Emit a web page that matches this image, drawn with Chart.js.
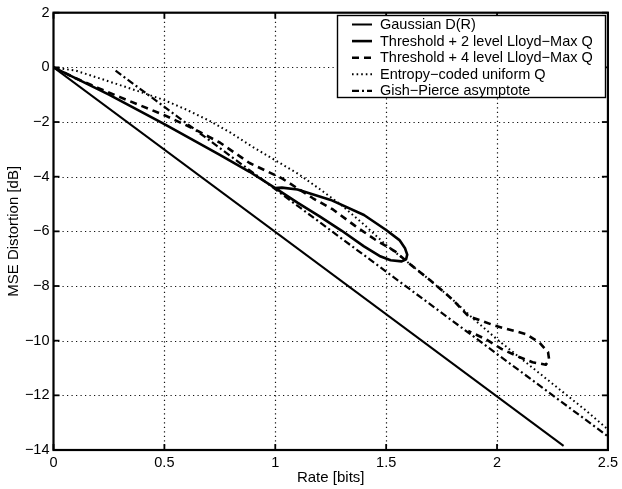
<!DOCTYPE html>
<html>
<head>
<meta charset="utf-8">
<script src="https://cdn.jsdelivr.net/npm/chart.js@4.4.1/dist/chart.umd.min.js"></script>
<style>
  html, body { margin: 0; padding: 0; background: #fff; }
  #wrap { width: 622px; height: 489px; }
</style>
</head>
<body>
<div id="wrap"><canvas id="c" width="622" height="489"></canvas></div>
<script>
// ---- data ----
const seriesNames = [
  'Gaussian D(R)',
  'Threshold + 2 level Lloyd\u2212Max Q',
  'Threshold + 4 level Lloyd\u2212Max Q',
  'Entropy\u2212coded uniform Q',
  'Gish\u2212Pierce asymptote'
];
const gaussRate = [0, 2.3];
const gaussDist = [0, -13.85];

const lm2Rate = [0, 0.25, 0.5, 0.75, 0.884, 1.0, 1.1, 1.2, 1.3, 1.4, 1.47, 1.52, 1.57, 1.59, 1.595, 1.585, 1.56, 1.5, 1.4, 1.25, 1.1, 1.03, 1.0];
const lm2Dist = [0, -1.0, -2.08, -3.2, -3.82, -4.42, -4.95, -5.45, -5.98, -6.55, -6.9, -7.06, -7.1, -7.02, -6.85, -6.62, -6.32, -5.95, -5.4, -4.85, -4.47, -4.4, -4.42];

const lm4Rate = [0, 0.1, 0.2, 0.3, 0.43, 0.5, 0.62, 0.75, 0.884, 1.03, 1.17, 1.26, 1.36, 1.45, 1.54, 1.6, 1.7, 1.8, 1.87, 1.99, 2.13, 2.19, 2.23, 2.235, 2.22, 2.16, 2.1, 2.02, 1.95, 1.87];
const lm4Dist = [0, -0.4, -0.75, -1.09, -1.52, -1.75, -2.2, -2.75, -3.5, -4.06, -4.79, -5.2, -5.8, -6.3, -6.73, -7.15, -7.8, -8.5, -9.1, -9.45, -9.76, -10.06, -10.42, -10.7, -10.88, -10.79, -10.6, -10.3, -9.95, -9.64];

const ecRate = [0, 0.1, 0.2, 0.3, 0.4, 0.5, 0.6, 0.7, 0.8, 0.9, 1.0, 1.1, 1.2, 1.3, 1.4, 1.5, 1.6, 1.7, 1.8, 1.9, 2.0, 2.1, 2.2, 2.3, 2.4, 2.5];
const ecDist = [0, -0.12, -0.38, -0.65, -0.92, -1.2, -1.55, -1.94, -2.4, -2.92, -3.4, -3.88, -4.45, -5.05, -5.75, -6.5, -7.15, -7.8, -8.5, -9.25, -9.95, -10.6, -11.25, -11.9, -12.55, -13.25];

const gpRate = [0.28, 2.5];
const gpDist = [-0.12, -13.5];

const xTicks = [0, 0.5, 1, 1.5, 2, 2.5];
const xTickLabels = ['0', '0.5', '1', '1.5', '2', '2.5'];
const yTicks = [2, 0, -2, -4, -6, -8, -10, -12, -14];
const yTickLabels = ['2', '0', '\u22122', '\u22124', '\u22126', '\u22128', '\u221210', '\u221212', '\u221214'];

// ---- build ----
function pts(xs, ys) { return xs.map((x, i) => ({ x: x, y: ys[i] })); }
const FONT = "'Liberation Sans', Arial, Helvetica, sans-serif";

const styles = [
  { w: 2.0, dash: [] },
  { w: 2.6, dash: [] },
  { w: 2.6, dash: [7, 5] },
  { w: 2.0, dash: [1.6, 3] },
  { w: 2.2, dash: [7, 3, 2, 3] }
];
const allData = [
  pts(gaussRate, gaussDist),
  pts(lm2Rate, lm2Dist),
  pts(lm4Rate, lm4Dist),
  pts(ecRate, ecDist),
  pts(gpRate, gpDist)
];
const datasets = allData.map((d, i) => ({
  label: seriesNames[i],
  data: d,
  showLine: true,
  borderColor: '#000',
  backgroundColor: '#000',
  borderWidth: styles[i].w,
  borderDash: styles[i].dash,
  pointRadius: 0,
  fill: false,
  tension: 0,
  borderCapStyle: 'butt',
  borderJoinStyle: 'round'
}));

const framePlugin = {
  id: 'frame',
  beforeDatasetsDraw(chart) {
    const { ctx, chartArea: a, scales: { x, y } } = chart;
    ctx.save();
    ctx.strokeStyle = '#111';
    ctx.lineWidth = 1.2;
    ctx.setLineDash([1.2, 3.3]);
    xTicks.forEach(v => {
      if (v <= x.min || v >= x.max) return;
      const px = Math.round(x.getPixelForValue(v)) + 0.5;
      ctx.beginPath(); ctx.moveTo(px, a.top); ctx.lineTo(px, a.bottom); ctx.stroke();
    });
    yTicks.forEach(v => {
      if (v <= y.min || v >= y.max) return;
      const py = Math.round(y.getPixelForValue(v)) + 0.5;
      ctx.beginPath(); ctx.moveTo(a.left, py); ctx.lineTo(a.right, py); ctx.stroke();
    });
    ctx.restore();
  },
  afterDatasetsDraw(chart) {
    const { ctx, chartArea: a, scales: { x, y } } = chart;
    ctx.save();
    ctx.setLineDash([]);
    ctx.strokeStyle = '#000';
    ctx.lineWidth = 1.8;
    const tl = 6;
    xTicks.forEach(v => {
      const px = x.getPixelForValue(v);
      ctx.beginPath(); ctx.moveTo(px, a.bottom); ctx.lineTo(px, a.bottom - tl); ctx.stroke();
      ctx.beginPath(); ctx.moveTo(px, a.top); ctx.lineTo(px, a.top + tl); ctx.stroke();
    });
    yTicks.forEach(v => {
      const py = y.getPixelForValue(v);
      ctx.beginPath(); ctx.moveTo(a.left, py); ctx.lineTo(a.left + tl, py); ctx.stroke();
      ctx.beginPath(); ctx.moveTo(a.right, py); ctx.lineTo(a.right - tl, py); ctx.stroke();
    });
    ctx.lineWidth = 2.2;
    ctx.strokeRect(a.left, a.top, a.right - a.left, a.bottom - a.top);

    // legend box
    const bx = 337, by = 15, bw = 268, bh = 82;
    ctx.fillStyle = '#fff';
    ctx.fillRect(bx, by, bw, bh);
    ctx.lineWidth = 1.4;
    ctx.strokeRect(bx + 0.5, by + 0.5, bw, bh);
    ctx.font = '14.5px ' + FONT;
    ctx.textBaseline = 'middle';
    ctx.textAlign = 'left';
    const rowH = 16.6;
    chart.data.datasets.forEach((ds, i) => {
      const ry = by + 9.5 + i * rowH;
      ctx.strokeStyle = '#000';
      ctx.lineWidth = ds.borderWidth;
      ctx.setLineDash(ds.borderDash);
      ctx.beginPath(); ctx.moveTo(352, ry); ctx.lineTo(372, ry); ctx.stroke();
      ctx.setLineDash([]);
      ctx.fillStyle = '#000';
      ctx.fillText(ds.label, 380, ry + 0.5);
    });
    ctx.restore();
  }
};

new Chart(document.getElementById('c'), {
  type: 'scatter',
  data: { datasets: datasets },
  options: {
    responsive: false,
    animation: false,
    devicePixelRatio: 1,
    layout: { padding: { top: 10, right: 13.5, left: 0, bottom: 0 } },
    plugins: { legend: { display: false }, tooltip: { enabled: false } },
    scales: {
      x: {
        type: 'linear', min: 0, max: 2.5,
        afterBuildTicks(s) { s.ticks = xTicks.map(v => ({ value: v })); },
        afterFit(s) { s.height = 39; },
        grid: { display: false, drawTicks: false },
        border: { display: false },
        ticks: {
          color: '#000', padding: 4, maxRotation: 0, autoSkip: false,
          font: { family: FONT, size: 14.5 },
          callback: (v) => { const k = xTicks.indexOf(v); return k >= 0 ? xTickLabels[k] : ''; }
        },
        title: { display: true, text: 'Rate [bits]', color: '#000', font: { family: FONT, size: 15 }, padding: { top: 0, bottom: 2.5 } }
      },
      y: {
        type: 'linear', min: -14, max: 2,
        afterBuildTicks(s) { s.ticks = yTicks.map(v => ({ value: v })); },
        afterFit(s) { s.width = 53.5; },
        grid: { display: false, drawTicks: false },
        border: { display: false },
        ticks: {
          color: '#000', padding: 4, autoSkip: false,
          font: { family: FONT, size: 14.5 },
          callback: (v) => { const k = yTicks.indexOf(v); return k >= 0 ? yTickLabels[k] : ''; }
        },
        title: { display: true, text: 'MSE Distortion [dB]', color: '#000', font: { family: FONT, size: 15 }, padding: { top: 5, bottom: 0 } }
      }
    }
  },
  plugins: [framePlugin]
});
</script>
</body>
</html>
